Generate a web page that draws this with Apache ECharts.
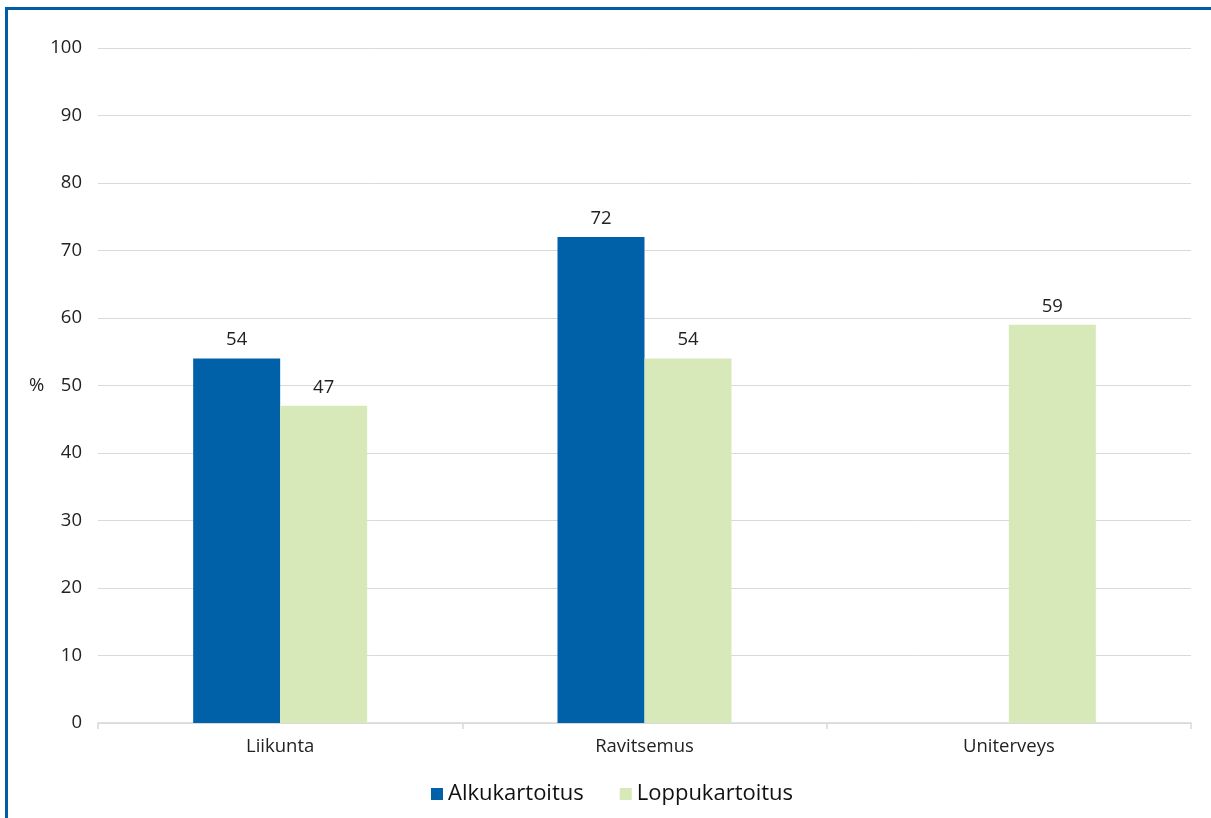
<!DOCTYPE html>
<html>
<head>
<meta charset="utf-8">
<script src="https://cdn.jsdelivr.net/npm/echarts@6/dist/echarts.min.js"></script>
<style>
  html, body { margin: 0; padding: 0; background: #fff; }
  #frame { position: absolute; left: 5px; top: 7px; width: 1220px; height: 830px; border: 3px solid #005ca6; box-sizing: border-box; }
  #chart { position: absolute; left: 0; top: 0; width: 1211px; height: 818px; }
</style>
</head>
<body>
<div id="frame"></div>
<div id="chart"></div>
<script>
const categories = ['Liikunta', 'Ravitsemus', 'Uniterveys'];
const alkukartoitus = [54, 72, null];
const loppukartoitus = [47, 54, 59];
const yTicks = [0, 10, 20, 30, 40, 50, 60, 70, 80, 90, 100];

const FONT = 'Open Sans';
const chart = echarts.init(document.getElementById('chart'), null, { renderer: 'canvas' });

const labelStyle = { show: true, position: 'top', distance: 9, color: '#222', fontSize: 18.5, fontFamily: FONT };

chart.setOption({
  animation: false,
  textStyle: { fontFamily: FONT },
  grid: { left: 98, right: 20, top: 48, bottom: 95, containLabel: false },
  legend: {
    bottom: 8, left: 426,
    itemWidth: 12, itemHeight: 12, itemGap: 36,
    icon: 'rect',
    textStyle: { fontSize: 22, color: '#111', fontFamily: FONT },
    data: ['Alkukartoitus', 'Loppukartoitus']
  },
  xAxis: {
    type: 'category',
    data: categories,
    axisLine: { lineStyle: { color: '#d9d9d9', width: 1.5 } },
    axisTick: { show: true, length: 6, lineStyle: { color: '#d9d9d9', width: 1.5 } },
    axisLabel: { color: '#222', fontSize: 18.5, margin: 14, fontFamily: FONT }
  },
  yAxis: {
    type: 'value',
    min: yTicks[0], max: yTicks[yTicks.length - 1], interval: 10,
    name: '%', nameLocation: 'middle', nameRotate: 0, nameGap: 53,
    nameTextStyle: { color: '#222', fontSize: 18.5, fontFamily: FONT },
    axisLine: { show: false },
    axisTick: { show: false },
    axisLabel: { color: '#222', fontSize: 18.5, margin: 16, fontFamily: FONT },
    splitLine: { lineStyle: { color: '#d9d9d9', width: 1 } }
  },
  series: [
    {
      name: 'Alkukartoitus', type: 'bar', data: alkukartoitus,
      barWidth: 87, barGap: '0%',
      itemStyle: { color: '#0060a8' },
      label: labelStyle
    },
    {
      name: 'Loppukartoitus', type: 'bar', data: loppukartoitus,
      barWidth: 87, barGap: '0%',
      itemStyle: { color: '#d8e9b9' },
      label: labelStyle
    }
  ]
});
</script>
</body>
</html>
